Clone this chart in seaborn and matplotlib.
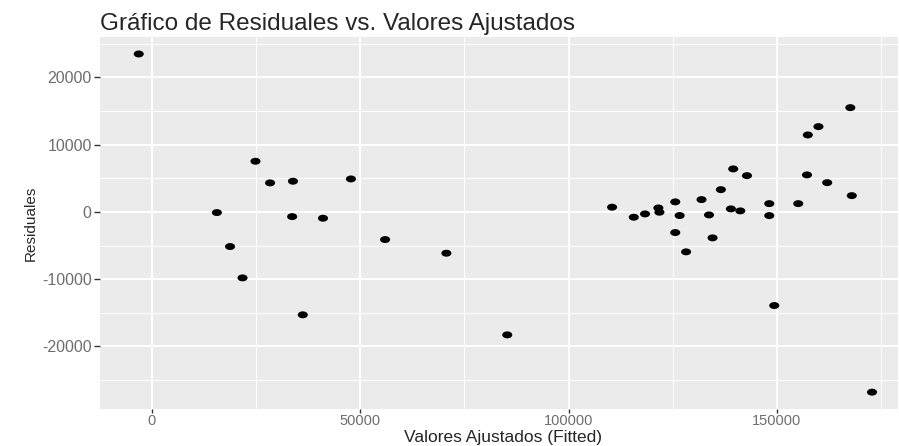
import matplotlib
matplotlib.use("Agg")
import matplotlib.pyplot as plt
import seaborn as sns
import pandas as pd
from matplotlib.markers import MarkerStyle
from matplotlib.transforms import Affine2D

# fitted values and residuals
fitted = [-3100, 15650, 24900, 28400, 33900, 33700, 41100, 47800,
          18800, 21800, 36250, 56000, 70700, 85300, 125600, 134550,
          128200, 149350, 172800, 110450, 115650, 118350, 121550, 121800,
          125600, 126650, 131900, 133700, 136550, 138950, 139500, 141200,
          142800, 148150, 148150, 155100, 157200, 157400, 159950, 162050,
          167600, 167950]
residuals = [23480, -100, 7530, 4310, 4560, -700, -940, 4900,
             -5150, -9810, -15300, -4110, -6140, -18280, -3070, -3860,
             -5940, -13920, -26800, 700, -790, -300, 590, -50,
             1490, -540, 1830, -450, 3310, 450, 6390, 150,
             5390, 1230, -550, 1230, 5500, 11440, 12680, 4350,
             15500, 2420]

x_major = [0, 50000, 100000, 150000]
x_minor = [-25000, 25000, 75000, 125000, 175000]
y_major = [-20000, -10000, 0, 10000, 20000]
y_minor = [-25000, -15000, -5000, 5000, 15000, 25000]

df = pd.DataFrame({'fitted': fitted, 'residuals': residuals})

sns.set_style("white")
plt.rcParams['font.family'] = ['Liberation Sans', 'DejaVu Sans']

fig = plt.figure(figsize=(8.99, 4.46), dpi=100)
ax = fig.add_axes([0.1112, 0.083, 0.888, 0.834])
ax.set_facecolor('#EBEBEB')

# grid like ggplot's theme_grey
for v in x_minor:
    ax.axvline(v, color='white', linewidth=0.7, zorder=0)
for v in y_minor:
    ax.axhline(v, color='white', linewidth=0.7, zorder=0)
for v in x_major:
    ax.axvline(v, color='white', linewidth=1.4, zorder=0)
for v in y_major:
    ax.axhline(v, color='white', linewidth=1.4, zorder=0)

dot = MarkerStyle('o', transform=Affine2D().scale(1.45, 1.0))
sns.scatterplot(data=df, x='fitted', y='residuals', color='black',
                marker=dot, s=25, edgecolor='none', ax=ax, zorder=3)

ax.set_xlim(-12400, 179100)
ax.set_ylim(-29300, 26000)
ax.set_xticks(x_major)
ax.set_yticks(y_major)
ax.set_xticklabels([str(v) for v in x_major])
ax.set_yticklabels([str(v) for v in y_major])
ax.tick_params(axis='y', left=True, length=4, width=1, color='#333333',
               labelcolor='#6E6E6E', labelsize=11.5, pad=2)
ax.tick_params(axis='x', bottom=True, length=3, width=1, color='#333333',
               labelcolor='#6E6E6E', labelsize=10.5, pad=0.5)
for s in ax.spines.values():
    s.set_visible(False)

ax.set_xlabel('Valores Ajustados (Fitted)', fontsize=12.5, va='baseline')
ax.xaxis.set_label_coords(0.505, -0.089)
ax.set_ylabel('Residuales', fontsize=11, labelpad=3)
ax.set_title('Gráfico de Residuales vs. Valores Ajustados', fontsize=17.5,
             loc='left', pad=5)

fig.savefig('out.png', dpi=100)
